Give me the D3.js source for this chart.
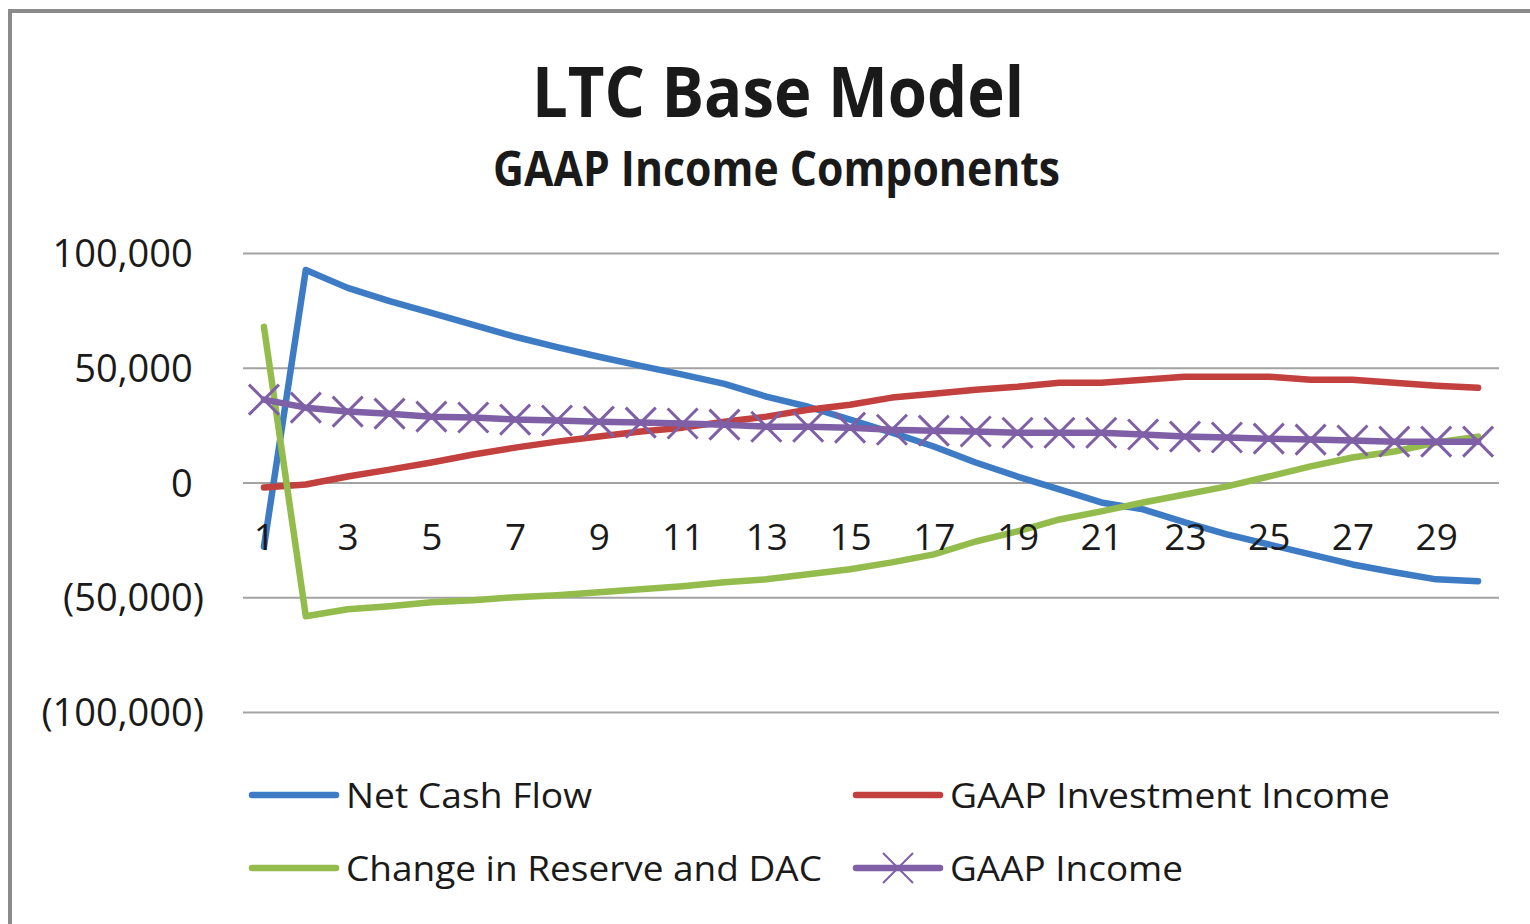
<!DOCTYPE html>
<html>
<head>
<meta charset="utf-8">
<script src="https://cdn.jsdelivr.net/npm/d3@7"></script>
<style>
  body { margin: 0; background: #fff; }
  svg text { font-family: "Open Sans", "DejaVu Sans", sans-serif; fill: #1a1a1a; }
</style>
</head>
<body>
<div id="chart"></div>
<script>
// years 1..30
var years = d3.range(1, 31);

var netCashFlow = [-28000, 92600, 84800, 79000, 73900, 68700, 63500, 59000, 54800, 50800,
  47000, 43000, 37400, 33000, 27400, 21700, 15700, 8700, 2600, -3000,
  -8700, -11700, -17400, -22600, -27000, -31300, -35700, -39100, -42200, -43000];
var gaapInvIncome = [-2200, -900, 2600, 5600, 8700, 12200, 15200, 17800, 20000, 22200,
  23900, 26500, 28700, 31700, 33900, 37000, 38700, 40400, 41700, 43500,
  43500, 44800, 46100, 46100, 46100, 44800, 44800, 43500, 42200, 41300];
var changeReserveDac = [67800, -58300, -55200, -53900, -52200, -51300, -50000, -49100, -47800, -46500,
  -45200, -43500, -42200, -40000, -37800, -34800, -31300, -25700, -21300, -16100,
  -12600, -8700, -5200, -1700, 2600, 7000, 10900, 13500, 17400, 20000];
var gaapIncome = [36100, 32600, 30900, 30000, 28700, 28300, 27400, 27000, 26500, 26100,
  25700, 25200, 24300, 24300, 23900, 23000, 22600, 22200, 21700, 21700,
  21700, 20900, 20000, 19600, 19100, 18700, 18300, 17800, 17800, 17800];

var seriesNames = ["Net Cash Flow", "GAAP Investment Income", "Change in Reserve and DAC", "GAAP Income"];
var seriesColors = ["#3d7cc5", "#c2403d", "#94bc4c", "#7f5fa6"];
var yTicks = [-100000, -50000, 0, 50000, 100000];

var width = 1530, height = 924;
var plot = {left: 243, right: 1499, top: 253, bottom: 712};

var svg = d3.select("#chart").append("svg")
    .attr("width", width)
    .attr("height", height);

// chart frame
svg.append("rect")
    .attr("x", 10).attr("y", 11)
    .attr("width", width + 20).attr("height", height + 20)
    .attr("fill", "#fff")
    .attr("stroke", "#8a8a8a")
    .attr("stroke-width", 4);

// titles
svg.append("text")
    .attr("x", 532).attr("y", 117)
    .attr("font-size", 70).attr("font-weight", "bold")
    .attr("textLength", 492).attr("lengthAdjust", "spacingAndGlyphs")
    .text("LTC Base Model");
svg.append("text")
    .attr("x", 493).attr("y", 186)
    .attr("font-size", 48).attr("font-weight", "bold")
    .attr("textLength", 567).attr("lengthAdjust", "spacingAndGlyphs")
    .text("GAAP Income Components");

var x = d3.scalePoint()
    .domain(years)
    .range([plot.left, plot.right])
    .padding(0.5);

var y = d3.scaleLinear()
    .domain([-100000, 100000])
    .range([plot.bottom, plot.top]);

// gridlines + y labels
var yAxis = svg.append("g")
    .attr("transform", "translate(" + plot.left + ",0)")
    .call(d3.axisLeft(y)
        .tickValues(yTicks)
        .tickSize(-(plot.right - plot.left))
        .tickPadding(39)
        .tickFormat(function(d){
            var s = d3.format(",")(Math.abs(d));
            return d < 0 ? "(" + s + ")" : s;
        }));
yAxis.select(".domain").remove();
yAxis.selectAll("line").attr("stroke", "#a3a3a3").attr("stroke-width", 2);
yAxis.selectAll("text")
    .attr("font-size", 38)
    .attr("fill", "#1a1a1a")
    .attr("dy", "0.36em");
// Excel style padding: positive numbers keep room for a ")"
yAxis.selectAll("text").filter(function(d){ return d >= 0; })
    .append("tspan").attr("fill", "none").text(")");

// lines
var allSeries = [netCashFlow, gaapInvIncome, changeReserveDac, gaapIncome];
var line = d3.line()
    .x(function(d, i){ return x(years[i]); })
    .y(function(d){ return y(d); });

allSeries.forEach(function(vals, k){
    svg.append("path")
        .datum(vals)
        .attr("d", line)
        .attr("fill", "none")
        .attr("stroke", seriesColors[k])
        .attr("stroke-width", 6.5)
        .attr("stroke-linejoin", "round")
        .attr("stroke-linecap", "round");
});

// X markers on GAAP Income
var m = 15;
svg.append("g").selectAll("path")
    .data(gaapIncome)
    .enter()
    .append("path")
    .attr("d", function(d, i){
        var cx = x(years[i]), cy = y(d);
        return "M" + (cx - m) + "," + (cy - m) + "L" + (cx + m) + "," + (cy + m) +
               "M" + (cx - m) + "," + (cy + m) + "L" + (cx + m) + "," + (cy - m);
    })
    .attr("stroke", seriesColors[3])
    .attr("stroke-width", 3)
    .attr("fill", "none");

// x labels (every other year), drawn over the lines
var xAxis = svg.append("g")
    .attr("transform", "translate(0," + y(0) + ")")
    .call(d3.axisBottom(x)
        .tickValues(years.filter(function(d){ return d % 2 == 1; }))
        .tickSize(0)
        .tickPadding(56));
xAxis.select(".domain").remove();
xAxis.selectAll("text")
    .attr("font-size", 37)
    .attr("fill", "#1a1a1a")
    .attr("dy", "0.3em");

// legend
var legendPos = [
    {lx: 252, tx: 346, y: 795, w: 246},
    {lx: 856, tx: 950, y: 795, w: 440},
    {lx: 252, tx: 346, y: 868, w: 476},
    {lx: 856, tx: 950, y: 868, w: 233}
];
var legend = svg.append("g");
seriesNames.forEach(function(name, k){
    var p = legendPos[k];
    legend.append("line")
        .attr("x1", p.lx).attr("x2", p.lx + 84)
        .attr("y1", p.y).attr("y2", p.y)
        .attr("stroke", seriesColors[k])
        .attr("stroke-width", 6.5)
        .attr("stroke-linecap", "round");
    if (k == 3) {
        var cx = p.lx + 42;
        legend.append("path")
            .attr("d", "M" + (cx - m) + "," + (p.y - m) + "L" + (cx + m) + "," + (p.y + m) +
                       "M" + (cx - m) + "," + (p.y + m) + "L" + (cx + m) + "," + (p.y - m))
            .attr("stroke", seriesColors[3])
            .attr("stroke-width", 2);
    }
    legend.append("text")
        .attr("x", p.tx).attr("y", p.y + 13)
        .attr("font-size", 35)
        .attr("textLength", p.w).attr("lengthAdjust", "spacingAndGlyphs")
        .text(name);
});
</script>
</body>
</html>
